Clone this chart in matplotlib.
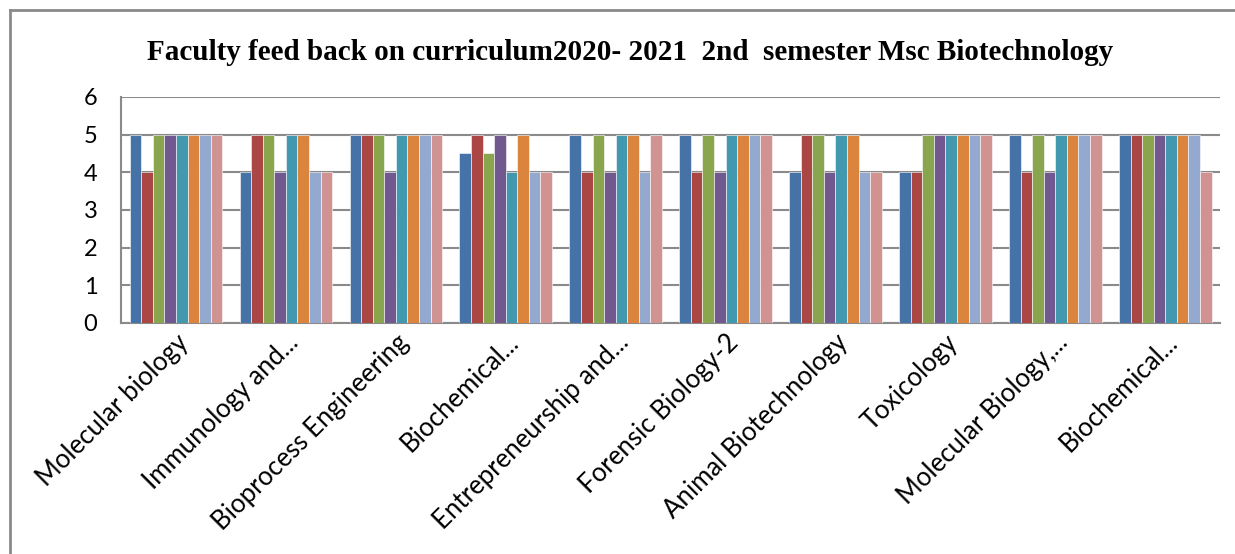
import matplotlib.pyplot as plt
import numpy as np
from matplotlib.lines import Line2D

courses = ['Molecular biology', 'Immunology and...', 'Bioprocess Engineering',
           'Biochemical...', 'Entrepreneurship and...', 'Forensic Biology-2',
           'Animal Biotechnology', 'Toxicology', 'Molecular Biology,...',
           'Biochemical...']

# one list per faculty member, one score per course
faculty_1 = [5, 4, 5, 4.5, 5, 5, 4, 4, 5, 5]
faculty_2 = [4, 5, 5, 5, 4, 4, 5, 4, 4, 5]
faculty_3 = [5, 5, 5, 4.5, 5, 5, 5, 5, 5, 5]
faculty_4 = [5, 4, 4, 5, 4, 4, 4, 5, 4, 5]
faculty_5 = [5, 5, 5, 4, 5, 5, 5, 5, 5, 5]
faculty_6 = [5, 5, 5, 5, 5, 5, 5, 5, 5, 5]
faculty_7 = [5, 4, 5, 4, 4, 5, 4, 5, 5, 5]
faculty_8 = [5, 4, 5, 4, 5, 5, 4, 5, 5, 4]

series = [faculty_1, faculty_2, faculty_3, faculty_4,
          faculty_5, faculty_6, faculty_7, faculty_8]
colors = ['#4572A7', '#AA4643', '#89A54E', '#71588F',
          '#4198AF', '#DB843D', '#93A9CF', '#D19392']

fig = plt.figure(figsize=(12.35, 5.54), dpi=100)
ax = fig.add_axes([0.098, 0.417, 0.89, 0.408])

x = np.arange(len(courses))
n = len(series)
w = 1 / (n + 1.5)
for i, (vals, c) in enumerate(zip(series, colors)):
    ax.bar(x + (i - (n - 1) / 2) * w, vals, width=w, color=c,
           edgecolor='white', linewidth=0.4, zorder=3)

ax.set_xlim(-0.5, len(courses) - 0.5)
ax.set_ylim(0, 6)
ax.set_yticks(range(7))
ax.yaxis.grid(True, color='#8a8a8a', linewidth=1.5, zorder=0)
ax.tick_params(axis='y', length=0, pad=17, labelsize=17)
ax.tick_params(axis='x', length=0, pad=5, labelsize=18.5)
for lbl in ax.get_yticklabels():
    lbl.set_fontfamily('Lato')

ax.set_xticks(x)
ax.set_xticklabels(courses, rotation=45, ha='right', va='top',
                   rotation_mode='anchor', fontfamily='Lato')

for s in ['top', 'right']:
    ax.spines[s].set_visible(False)
for s in ['left', 'bottom']:
    ax.spines[s].set_color('#8a8a8a')
    ax.spines[s].set_linewidth(1.5)

fig.text(0.51, 0.905, 'Faculty feed back on curriculum2020- 2021  2nd  semester Msc Biotechnology',
         ha='center', va='center', fontsize=21, fontweight='bold',
         fontfamily='Liberation Serif')

# chart border
fig.add_artist(Line2D([10 / 1235, 1], [1 - 10 / 554] * 2, color='#8a8a8a', linewidth=2))
fig.add_artist(Line2D([10 / 1235] * 2, [0, 1 - 10 / 554], color='#8a8a8a', linewidth=2))

fig.savefig('out.png', dpi=100)
